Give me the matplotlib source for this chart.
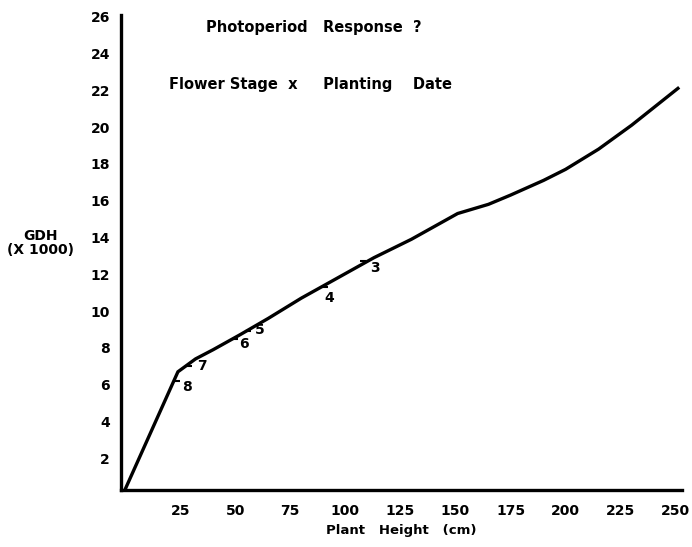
import matplotlib.pyplot as plt

# GDH (thousands) vs plant height, traced curve
height = [0, 24, 32, 40, 52, 65, 80, 95, 113, 130, 151, 165, 175, 190, 200, 215, 230, 251]
gdh = [0.3, 6.7, 7.4, 7.9, 8.7, 9.6, 10.7, 11.7, 12.9, 13.9, 15.3, 15.8, 16.3, 17.1, 17.7, 18.8, 20.1, 22.1]

# flower stage marks along the curve
stage = ['8', '7', '6', '5', '4', '3']
stage_x = [23.5, 29, 50, 56, 91, 108]
stage_y = [6.2, 7.0, 8.5, 8.9, 11.3, 12.7]

xticks = [25, 50, 75, 100, 125, 150, 175, 200, 225, 250]
yticks = [2, 4, 6, 8, 10, 12, 14, 16, 18, 20, 22, 24, 26]

plt.rcParams['font.family'] = ['DejaVu Sans']
plt.rcParams['font.weight'] = 'bold'

fig = plt.figure(figsize=(6.92, 5.47), dpi=100)
ax = fig.add_axes([0.175, 0.104, 0.811, 0.869])

ax.plot(height, gdh, color='black', lw=2.4, solid_joinstyle='miter')
ax.plot(stage_x, stage_y, ls='none', marker='_', ms=5, mew=1.5, color='black')
offs = [(4, -4), (6, 0), (3, -4), (5, 1), (-1, -8), (5, -5)]
for s, x, y, o in zip(stage, stage_x, stage_y, offs):
    ax.annotate(s, (x, y), xytext=o, textcoords='offset points',
                fontsize=10, fontweight='bold', va='center', ha='left')

ax.set_xlim(-1.8, 253)
ax.set_ylim(0.27, 26.1)
ax.set_xticks(xticks)
ax.set_yticks(yticks)
ax.tick_params(length=0, labelsize=10)
ax.tick_params(axis='x', pad=10)
ax.tick_params(axis='y', pad=8)
for lab in ax.get_xticklabels() + ax.get_yticklabels():
    lab.set_fontweight('bold')
for side in ['top', 'right']:
    ax.spines[side].set_visible(False)
for side in ['left', 'bottom']:
    ax.spines[side].set_linewidth(2.4)

ax.set_xlabel('Plant   Height   (cm)', fontsize=9.5, fontweight='bold', labelpad=4)
fig.text(0.058, 0.555, 'GDH\n(X 1000)', fontsize=10, fontweight='bold',
         ha='center', va='center', linespacing=1.0)

fig.text(0.454, 0.949, 'Photoperiod   Response  ?', fontsize=10.5, fontweight='bold',
         ha='center', va='center')
fig.text(0.448, 0.845, 'Flower Stage  x     Planting    Date', fontsize=10.5, fontweight='bold',
         ha='center', va='center')

fig.savefig('out.png', dpi=100)
